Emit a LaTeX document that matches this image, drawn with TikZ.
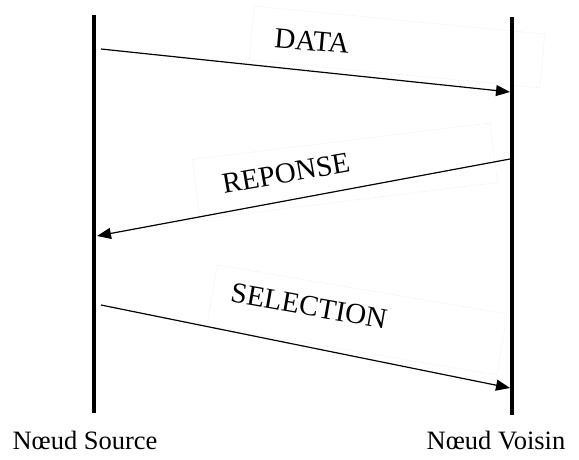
\documentclass[tikz,border=0pt]{standalone}
\usepackage{fontspec}
\setmainfont{Liberation Serif}
\usetikzlibrary{arrows.meta}
\begin{document}
\begin{tikzpicture}[x=1pt,y=-1pt,
  lifeline/.style={line width=4pt},
  msg/.style={line width=1.2pt,-{Triangle[length=14pt,width=11pt]}},
  msglabel/.style={font=\fontsize{29}{32}\selectfont,inner sep=0pt},
  endlabel/.style={font=\fontsize{26.5}{30}\selectfont,inner sep=0pt,anchor=base},
  faintbox/.style={draw=gray!18,line width=0.6pt,densely dotted}]
\useasboundingbox (0,0) rectangle (579,459);

% faint frames around the message labels
\draw[faintbox,rotate around={-5.5:(397,47)}] (251,20) rectangle (543,74);
\draw[faintbox,rotate around={7:(345,171)}] (195,141) rectangle (495,201);
\draw[faintbox,rotate around={-9.6:(357,320)}] (210,289) rectangle (504,351);

% lifelines
\coordinate (srcTop) at (94,15);
\coordinate (srcBot) at (94,413);
\coordinate (dstTop) at (512,17);
\coordinate (dstBot) at (512,415);
\draw[lifeline] (srcTop) -- (srcBot);
\draw[lifeline] (dstTop) -- (dstBot);

% message end points on the lifelines
\coordinate (d1) at (101,49);
\coordinate (d2) at (510,92);
\coordinate (r1) at (510,159);
\coordinate (r2) at (97,236);
\coordinate (s1) at (101,305);
\coordinate (s2) at (510,388);

\draw[msg] (d1) -- (d2);
\draw[msg] (r1) -- (r2);
\draw[msg] (s1) -- (s2);

% message labels
\node[msglabel,rotate=-5] (ldata) at (312,41) {DATA};
\node[msglabel,rotate=10] (lrep) at (286,173) {REPONSE};
\node[msglabel,rotate=-10] (lsel) at (309,306) {SELECTION};

% node names
\node[endlabel] (nsrc) at (85,449) {Nœud Source};
\node[endlabel] (nvoi) at (496,449) {Nœud Voisin};
\end{tikzpicture}
\end{document}
